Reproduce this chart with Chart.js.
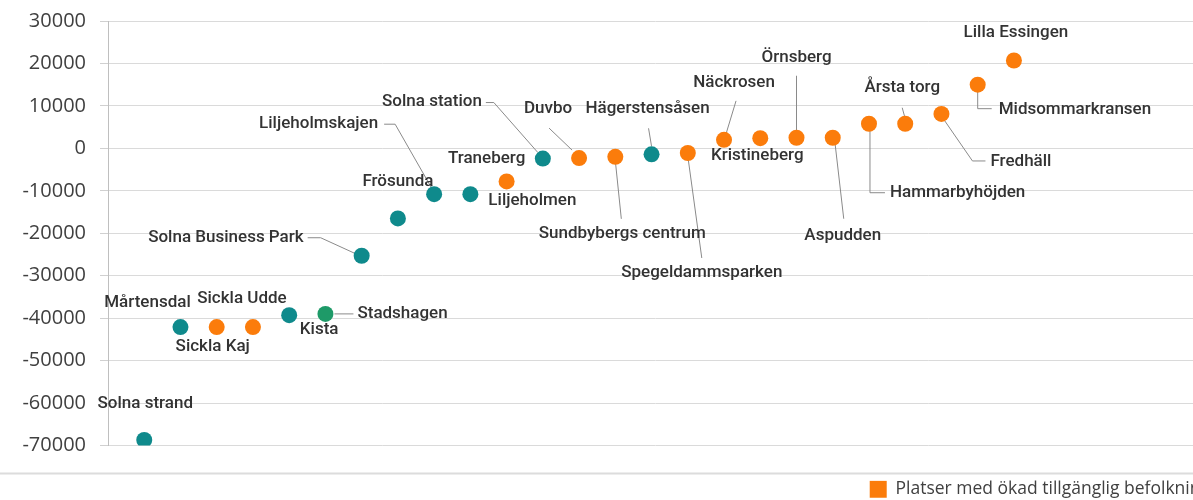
<!DOCTYPE html>
<html lang="sv">
<head>
<meta charset="UTF-8">
<title>Förändring av tillgänglig befolkning</title>
<script src="https://cdn.jsdelivr.net/npm/chart.js"></script>
<style>
  html, body { margin: 0; padding: 0; background: #fff; overflow: hidden; }
  #ram { position: relative; width: 1210px; height: 500px; }
</style>
</head>
<body>
<div id="ram"><canvas id="grafik"></canvas></div>

<script>
  // Platser i diagrammets ordning (vänster till höger)
  const platser = [
    "Solna strand", "Mårtensdal", "Sickla Kaj", "Sickla Udde", "Kista",
    "Stadshagen", "Solna Business Park", "Frösunda", "Liljeholmskajen", "Liljeholmen",
    "Traneberg", "Solna station", "Duvbo", "Sundbybergs centrum", "Hägerstensåsen",
    "Spegeldammsparken", "Näckrosen", "Kristineberg", "Örnsberg", "Aspudden",
    "Hammarbyhöjden", "Årsta torg", "Fredhäll", "Midsommarkransen", "Lilla Essingen"
  ];

  // Förändring av tillgänglig befolkning
  const forandring = [
    -68700, -42100, -42100, -42100, -39300,
    -39000, -25300, -16500, -10800, -10800,
    -7800, -2400, -2300, -2000, -1400,
    -1100, 2000, 2400, 2500, 2500,
    5800, 5800, 8100, 15000, 20700
  ];

  // Vilken grupp varje plats hör till
  const grupp = [
    "minskad", "minskad", "okad", "okad", "minskad",
    "ovrig", "minskad", "minskad", "minskad", "minskad",
    "okad", "minskad", "okad", "okad", "minskad",
    "okad", "okad", "okad", "okad", "okad",
    "okad", "okad", "okad", "okad", "okad"
  ];

  const yTicks = [30000, 20000, 10000, 0, -10000, -20000, -30000, -40000, -50000, -60000, -70000];

  const serier = [
    { key: "okad", label: "Platser med ökad tillgänglig befolkning", color: "#fb7c0b" },
    { key: "minskad", label: "Platser med minskad tillgänglig befolkning", color: "#0f8a8c" },
    { key: "ovrig", label: "Övriga", color: "#1e9a68" }
  ];

  // Etikettplacering: [dx, dy, justering, ledarlinje] relativt punkten
  const etiketter = [
    [1, -36, "center"],
    [-33, -24, "center"],
    [-4, 20, "center"],
    [-11, -28, "center"],
    [30, 15, "center"],
    [32, 0, "left", [[9, 0], [28, 0]]],
    [-58, -18, "right", [[-54, -18], [-41, -18], [-6, -2]]],
    [0, -37, "center"],
    [-56, -70, "right", [[-50, -70], [-39, -70], [-3, -7]]],
    [18, 7, "left"],
    [-20, -23, "center"],
    [-61, -57, "right", [[-57, -56], [-49, -56], [-5, -6]]],
    [-31, -49, "center", [[-30, -30], [-7, -8]]],
    [7, 77, "center", [[0, 4], [6, 62]]],
    [-4, -46, "center", [[-3, -26], [0, -8]]],
    [14, 120, "center", [[0, 3], [14, 105]]],
    [10, -57, "center", [[12, -39], [2, -6]]],
    [-3, 18, "center"],
    [0, -80, "center", [[0, -62], [0, -4]]],
    [10, 98, "center", [[2, 3], [11, 81]]],
    [21, 69, "left", [[1, 5], [1, 69], [16, 69]]],
    [-3, -36, "center", [[-3, -16], [0, -5]]],
    [49, 48, "left", [[2, 5], [31, 47], [44, 47]]],
    [21, 25, "left", [[0, 4], [0, 24], [14, 24]]],
    [2, -28, "center"]
  ];

  function punktPositioner(chart) {
    const pos = {};
    chart.data.datasets.forEach((ds, di) => {
      chart.getDatasetMeta(di).data.forEach((el, j) => { pos[ds.data[j].idx] = el; });
    });
    return pos;
  }

  const etikettPlugin = {
    id: "etiketter",
    beforeDatasetsDraw(chart) {
      const ctx = chart.ctx;
      const pos = punktPositioner(chart);
      ctx.save();
      ctx.strokeStyle = "#8a8a8a";
      ctx.lineWidth = 1;
      etiketter.forEach((e, i) => {
        const p = pos[i];
        if (!p || !e[3]) return;
        ctx.beginPath();
        e[3].forEach(([dx, dy], k) => {
          if (k === 0) ctx.moveTo(p.x + dx, p.y + dy);
          else ctx.lineTo(p.x + dx, p.y + dy);
        });
        ctx.stroke();
      });
      ctx.restore();
    },
    afterDatasetsDraw(chart) {
      const ctx = chart.ctx;
      const pos = punktPositioner(chart);
      ctx.save();
      ctx.font = "500 17px Roboto";
      ctx.fillStyle = "#333333";
      ctx.textBaseline = "middle";
      etiketter.forEach((e, i) => {
        const p = pos[i];
        if (!p) return;
        ctx.textAlign = e[2];
        ctx.fillText(platser[i], p.x + e[0], p.y + e[1]);
      });
      ctx.restore();
    },
    afterDraw(chart) {
      // avgränsningslinje ovanför förklaringen
      const ctx = chart.ctx;
      const y = chart.chartArea.bottom + 28;
      ctx.save();
      ctx.strokeStyle = "#dcdcdc";
      ctx.lineWidth = 2;
      ctx.beginPath();
      ctx.moveTo(0, y);
      ctx.lineTo(chart.width, y);
      ctx.stroke();
      ctx.restore();
    }
  };

  const datasets = serier.map(s => ({
    label: s.label,
    data: platser
      .map((namn, i) => ({ x: i + 1, y: forandring[i], idx: i }))
      .filter(d => grupp[d.idx] === s.key),
    backgroundColor: s.color,
    borderWidth: 0,
    pointRadius: 8,
    pointHoverRadius: 8
  }));

  new Chart(document.getElementById("grafik"), {
    type: "scatter",
    data: { datasets },
    plugins: [etikettPlugin],
    options: {
      responsive: true,
      maintainAspectRatio: false,
      animation: false,
      layout: { padding: { top: 21, left: 0, right: 0, bottom: -8 } },
      plugins: {
        tooltip: { enabled: false },
        legend: {
          position: "bottom",
          align: "end",
          labels: {
            boxWidth: 17,
            boxHeight: 17,
            padding: 0,
            color: "#404040",
            font: { family: "Open Sans", size: 17.5 },
            filter: item => item.datasetIndex === 0
          }
        }
      },
      scales: {
        x: {
          type: "linear",
          min: 0,
          max: 30.19,
          grid: { display: false },
          border: { display: false },
          ticks: { display: false },
          afterFit: s => { s.height = 35; }
        },
        y: {
          min: Math.min(...yTicks),
          max: Math.max(...yTicks),
          ticks: {
            stepSize: 10000,
            color: "#404040",
            padding: 14,
            font: { family: "Open Sans", size: 20 },
            callback: v => String(v)
          },
          grid: { color: "#dadada", tickLength: 8, tickColor: "#d0d0d0" },
          border: { color: "#bfbfbf" },
          afterFit: s => {
            s.width = 108;
            s.paddingTop = 0;
            s.paddingBottom = 0;
          }
        }
      }
    }
  });
</script>
</body>
</html>
